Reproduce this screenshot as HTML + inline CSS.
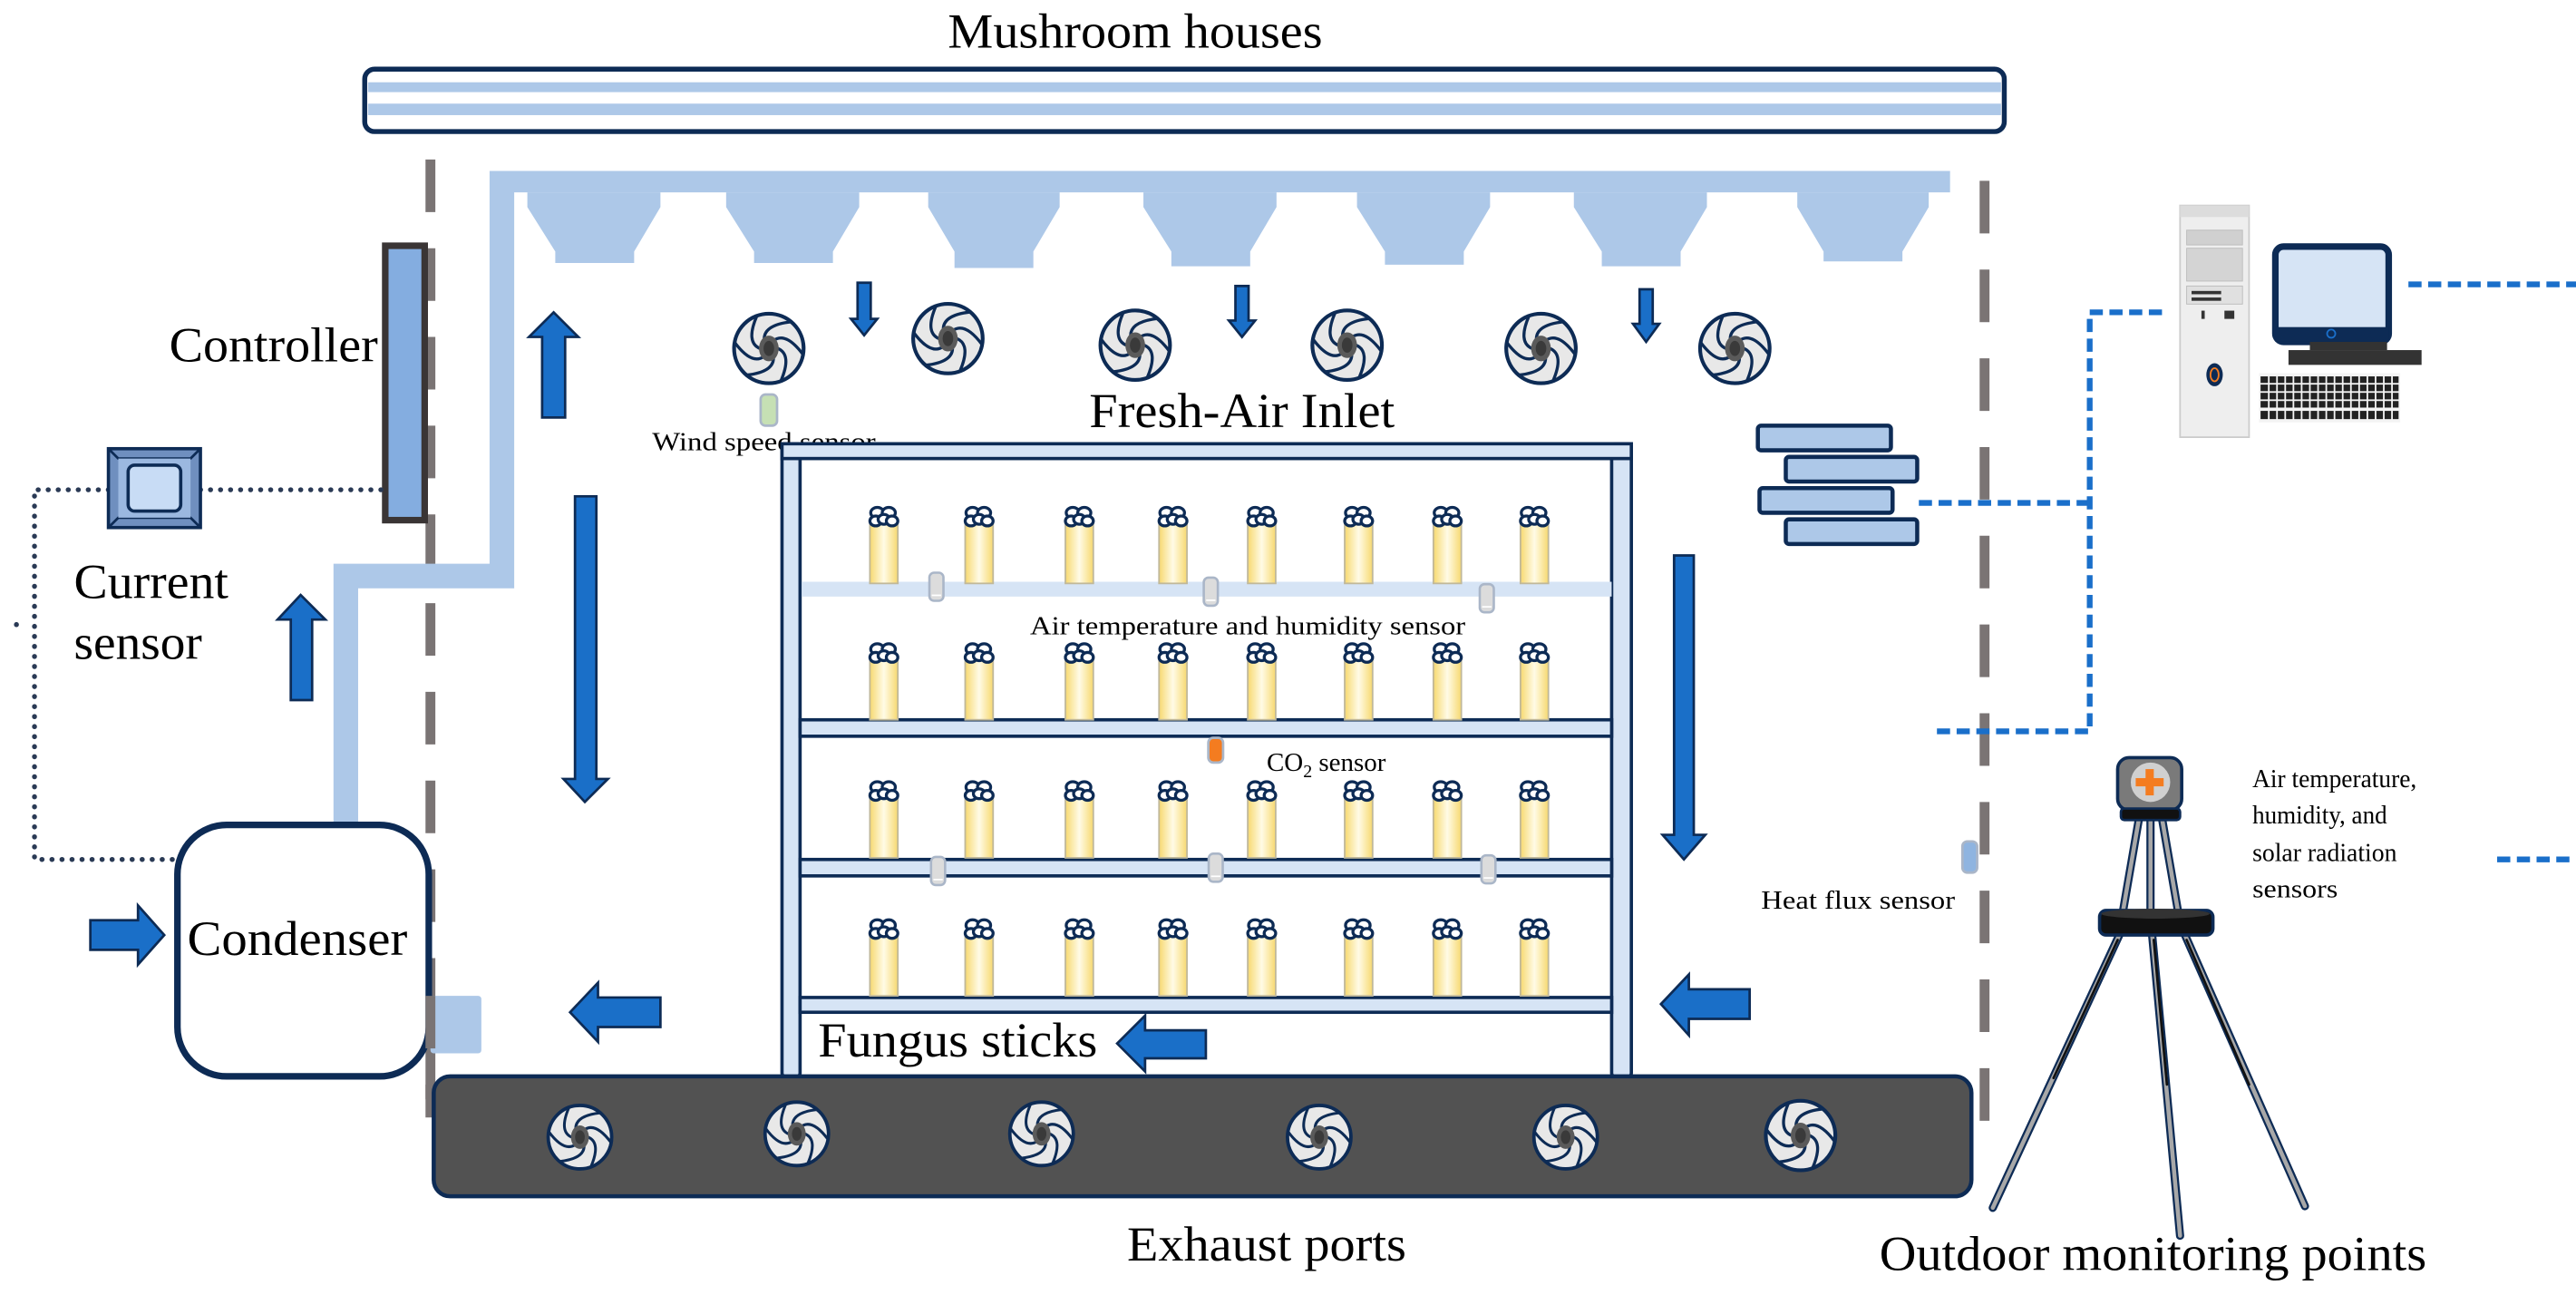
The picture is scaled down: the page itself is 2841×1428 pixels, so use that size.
<!DOCTYPE html>
<html><head><meta charset="utf-8"><style>
html,body{margin:0;padding:0;background:#fff;}
svg{display:block;}
text{font-family:"Liberation Serif",serif;fill:#000;}
</style></head><body>
<svg width="2841" height="1428" viewBox="0 0 1568 788" xmlns="http://www.w3.org/2000/svg">
<defs>
<linearGradient id="stk" x1="0" x2="1" y1="0" y2="0">
<stop offset="0" stop-color="#f7d970"/><stop offset="0.5" stop-color="#fffbe6"/><stop offset="1" stop-color="#f7d970"/>
</linearGradient>
<symbol id="fan" viewBox="-25 -25 50 50" overflow="visible">
<ellipse cx="0" cy="0" rx="23" ry="23" fill="#e8e8e8" stroke="#0d2b55" stroke-width="2.5"/>
<g fill="none" stroke="#0d2b55" stroke-width="2">
<path d="M6 0 Q15.5 4.1 7.9 21.6"/><path d="M3 5.2 Q4.1 15.5 -14.8 17.6"/><path d="M-3 5.2 Q-11.3 11.3 -22.6 -4"/>
<path d="M-6 0 Q-15.5 -4.1 -7.9 -21.6"/><path d="M-3 -5.2 Q-4.1 -15.5 14.8 -17.6"/><path d="M3 -5.2 Q11.3 -11.3 22.6 4"/>
</g>
<ellipse cx="0" cy="0" rx="6.5" ry="8.5" fill="#5a5a5a"/><ellipse cx="0" cy="0" rx="3.5" ry="5" fill="#3a3a3a"/>
</symbol>
<symbol id="stick" viewBox="0 0 20 48" overflow="visible">
<rect x="1.5" y="10" width="17" height="37" fill="url(#stk)" stroke="#c0b89a" stroke-width="1"/>
<g fill="#fff" stroke="#0d2b55" stroke-width="1.8">
<ellipse cx="6" cy="4" rx="4" ry="3.3"/><ellipse cx="13" cy="4" rx="4" ry="3.3"/>
<ellipse cx="5" cy="9" rx="3.5" ry="3"/><ellipse cx="10" cy="8" rx="3.5" ry="3"/><ellipse cx="15" cy="9" rx="3.5" ry="3"/>
</g>
</symbol>
<symbol id="sens" viewBox="0 0 10 20" overflow="visible">
<rect x="0.5" y="0.5" width="9" height="18" rx="3" fill="#dcdcdc" stroke="#aab6c8" stroke-width="1.5"/>
<line x1="2" y1="15" x2="8" y2="15" stroke="#fff" stroke-width="1"/>
</symbol>
</defs>

<!-- title -->
<text x="691" y="29" font-size="30" text-anchor="middle" textLength="228" lengthAdjust="spacingAndGlyphs">Mushroom houses</text>

<!-- pipe -->
<rect x="222" y="42" width="998" height="38" rx="6" fill="#fff" stroke="#0d2b55" stroke-width="3"/>
<rect x="224" y="50" width="994" height="6" fill="#adc8e8"/>
<rect x="224" y="63" width="994" height="7" fill="#adc8e8"/>

<!-- gray dashed walls -->
<line x1="262" y1="97" x2="262" y2="680" stroke="#7a7474" stroke-width="6" stroke-dasharray="32 22"/>
<line x1="1208" y1="110" x2="1208" y2="682" stroke="#7a7474" stroke-width="6" stroke-dasharray="32 22"/>

<!-- light blue duct -->
<path d="M298 104 H1187 V117 H313 V358 H218 V501 H203 V343 H298 Z" fill="#adc8e8"/>
<g fill="#adc8e8">
<path d="M321 117 H402 V126 L386 153 V160 H338 V153 L321 126 Z"/>
<path d="M442 117 H523 V126 L507 153 V160 H459 V153 L442 126 Z"/>
<path d="M565 117 H645 V126 L629 153 V163 H581 V153 L565 126 Z"/>
<path d="M696 117 H777 V126 L761 153 V162 H713 V153 L696 126 Z"/>
<path d="M826 117 H907 V126 L891 153 V161 H843 V153 L826 126 Z"/>
<path d="M958 117 H1039 V126 L1023 153 V162 H975 V153 L958 126 Z"/>
<path d="M1094 117 H1174 V126 L1158 153 V159 H1110 V153 L1094 126 Z"/>
</g>

<!-- top fans -->
<use href="#fan" x="445" y="188" width="46" height="48"/>
<use href="#fan" x="554" y="182" width="46" height="48"/>
<use href="#fan" x="668" y="186" width="46" height="48"/>
<use href="#fan" x="797" y="186" width="46" height="48"/>
<use href="#fan" x="915" y="188" width="46" height="48"/>
<use href="#fan" x="1033" y="188" width="46" height="48"/>

<!-- arrows -->
<g fill="#1a6fc8" stroke="#0d2b55" stroke-width="1.5">
<path d="M522 172 H530 V194 H534 L526 204 L518 194 H522 Z"/>
<path d="M752 174 H760 V195 H764 L756 205 L748 195 H752 Z"/>
<path d="M998 176 H1006 V197 H1010 L1002 208 L994 197 H998 Z"/>
<path d="M330 254 V205 H322 L337 190 L352 205 H344 V254 Z"/>
<path d="M177 426 V377 H169 L183 362 L198 377 H190 V426 Z"/>
<path d="M350 302 H363 V474 H370 L356 488 L343 474 H350 Z"/>
<path d="M1019 338 H1031 V508 H1038 L1025 523 L1012 508 H1019 Z"/>
<path d="M55 560 H84 V551 L100 569 L84 587 V578 H55 Z"/>
<path d="M402 607 H364 V598 L347 616 L364 634 V625 H402 Z"/>
<path d="M734 627 H697 V618 L680 635 L697 652 V644 H734 Z"/>
<path d="M1065 602 H1028 V593 L1011 611 L1028 630 V620 H1065 Z"/>
</g>

<!-- wind speed sensor -->
<rect x="463" y="240" width="10" height="19" rx="3" fill="#c6e0b4" stroke="#aab6c8" stroke-width="1.5"/>
<text x="397" y="274" font-size="16" textLength="136" lengthAdjust="spacingAndGlyphs">Wind speed sensor</text>
<text x="663" y="260" font-size="30" textLength="186" lengthAdjust="spacingAndGlyphs">Fresh-Air Inlet</text>

<!-- controller -->
<rect x="234.5" y="149.5" width="24" height="167" fill="#84ade0" stroke="#3a3535" stroke-width="4"/>
<text x="103" y="220" font-size="30" textLength="127" lengthAdjust="spacingAndGlyphs">Controller</text>

<!-- dotted navy lines -->
<g stroke="#2a3a55" stroke-width="3" stroke-linecap="round" stroke-dasharray="0.1 6" fill="none">
<path d="M122 298 H233"/>
<path d="M66 298 H21 V523 H157"/>
<path d="M10 380 V386"/>
</g>
<!-- current sensor -->
<rect x="66" y="273" width="56" height="48" fill="#6f8fbf" stroke="#0d2b55" stroke-width="2"/>
<path d="M66 273 L72 279 H116 L122 273 M66 321 L72 315 H116 L122 321" fill="none" stroke="#0d2b55" stroke-width="1.5"/>
<rect x="72" y="279" width="44" height="36" fill="#9bb8e0"/>
<rect x="78" y="283" width="32" height="28" rx="4" fill="#c8dcf5" stroke="#0d2b55" stroke-width="2"/>
<text x="45" y="364" font-size="30" textLength="94" lengthAdjust="spacingAndGlyphs">Current</text>
<text x="45" y="401" font-size="30" textLength="78" lengthAdjust="spacingAndGlyphs">sensor</text>

<!-- condenser -->
<rect x="108" y="502" width="153" height="153" rx="30" fill="#fff" stroke="#0d2b55" stroke-width="4"/>
<text x="181" y="581" font-size="30" text-anchor="middle" textLength="134" lengthAdjust="spacingAndGlyphs">Condenser</text>
<rect x="262" y="606" width="31" height="35" rx="2" fill="#adc8e8"/>
<line x1="262" y1="606" x2="262" y2="680" stroke="#7a7474" stroke-width="6" stroke-dasharray="32 22"/>

<!-- rack -->
<g fill="#d6e4f5" stroke="#0d2b55" stroke-width="2">
<rect x="476" y="270" width="11" height="385" rx="2"/>
<rect x="981" y="270" width="12" height="385" rx="2"/>
<rect x="476" y="270" width="517" height="9"/>
<rect x="487" y="438" width="494" height="10"/>
<rect x="487" y="523" width="494" height="10"/>
<rect x="487" y="607" width="494" height="9"/>
</g>
<rect x="488" y="354" width="493" height="9" fill="#d6e4f5"/>

<!-- sticks -->
<g>
<use href="#stick" x="528" y="308" width="20" height="48"/><use href="#stick" x="586" y="308" width="20" height="48"/><use href="#stick" x="647" y="308" width="20" height="48"/><use href="#stick" x="704" y="308" width="20" height="48"/><use href="#stick" x="758" y="308" width="20" height="48"/><use href="#stick" x="817" y="308" width="20" height="48"/><use href="#stick" x="871" y="308" width="20" height="48"/><use href="#stick" x="924" y="308" width="20" height="48"/>
<use href="#stick" x="528" y="391" width="20" height="48"/><use href="#stick" x="586" y="391" width="20" height="48"/><use href="#stick" x="647" y="391" width="20" height="48"/><use href="#stick" x="704" y="391" width="20" height="48"/><use href="#stick" x="758" y="391" width="20" height="48"/><use href="#stick" x="817" y="391" width="20" height="48"/><use href="#stick" x="871" y="391" width="20" height="48"/><use href="#stick" x="924" y="391" width="20" height="48"/>
<use href="#stick" x="528" y="475" width="20" height="48"/><use href="#stick" x="586" y="475" width="20" height="48"/><use href="#stick" x="647" y="475" width="20" height="48"/><use href="#stick" x="704" y="475" width="20" height="48"/><use href="#stick" x="758" y="475" width="20" height="48"/><use href="#stick" x="817" y="475" width="20" height="48"/><use href="#stick" x="871" y="475" width="20" height="48"/><use href="#stick" x="924" y="475" width="20" height="48"/>
<use href="#stick" x="528" y="559" width="20" height="48"/><use href="#stick" x="586" y="559" width="20" height="48"/><use href="#stick" x="647" y="559" width="20" height="48"/><use href="#stick" x="704" y="559" width="20" height="48"/><use href="#stick" x="758" y="559" width="20" height="48"/><use href="#stick" x="817" y="559" width="20" height="48"/><use href="#stick" x="871" y="559" width="20" height="48"/><use href="#stick" x="924" y="559" width="20" height="48"/>
</g>

<!-- sensors -->
<use href="#sens" x="565" y="348" width="10" height="19"/>
<use href="#sens" x="732" y="351" width="10" height="19"/>
<use href="#sens" x="900" y="355" width="10" height="19"/>
<use href="#sens" x="566" y="521" width="10" height="19"/>
<use href="#sens" x="735" y="519" width="10" height="19"/>
<use href="#sens" x="901" y="520" width="10" height="19"/>
<rect x="735.5" y="449" width="9" height="15" rx="3" fill="#f47c20" stroke="#aab6c8" stroke-width="1.5"/>
<rect x="1194.5" y="512" width="9" height="19" rx="3" fill="#8fb4e0" stroke="#aab6c8" stroke-width="1.5"/>

<text x="627" y="386" font-size="16" textLength="265" lengthAdjust="spacingAndGlyphs">Air temperature and humidity sensor</text>
<text x="771" y="469" font-size="16">CO<tspan font-size="11" dy="4">2</tspan><tspan dy="-4"> sensor</tspan></text>
<text x="1072" y="553" font-size="16" textLength="118" lengthAdjust="spacingAndGlyphs">Heat flux sensor</text>
<text x="498" y="643" font-size="30" textLength="170" lengthAdjust="spacingAndGlyphs">Fungus sticks</text>

<!-- exhaust -->
<rect x="264" y="655" width="936" height="73" rx="10" fill="#525252" stroke="#0d2b55" stroke-width="2.5"/>
<use href="#fan" x="332" y="670" width="42" height="44"/>
<use href="#fan" x="464" y="668" width="42" height="44"/>
<use href="#fan" x="613" y="668" width="42" height="44"/>
<use href="#fan" x="782" y="670" width="42" height="44"/>
<use href="#fan" x="932" y="670" width="42" height="44"/>
<use href="#fan" x="1073" y="667" width="46" height="48"/>
<text x="771" y="767" font-size="30" text-anchor="middle" textLength="170" lengthAdjust="spacingAndGlyphs">Exhaust ports</text>

<!-- logger blocks -->
<g fill="#adc8e8" stroke="#0d2b55" stroke-width="2.5">
<rect x="1070" y="259" width="81" height="15" rx="2"/>
<rect x="1087" y="278" width="80" height="15" rx="2"/>
<rect x="1071" y="297" width="81" height="15" rx="2"/>
<rect x="1087" y="316" width="80" height="15" rx="2"/>
</g>

<!-- blue dotted network lines -->
<g stroke="#1a6fca" stroke-width="3.5" fill="none" stroke-dasharray="8 4">
<path d="M1168 306 H1272"/>
<path d="M1316 190 H1272 V445 H1176"/>
<path d="M1466 173 H1568"/>
<path d="M1520 523 H1568"/>
</g>

<!-- computer -->
<rect x="1327" y="125" width="42" height="141" fill="#eeeeee" stroke="#cccccc" stroke-width="1"/>
<rect x="1327" y="125" width="42" height="7" fill="#dcdcdc"/>
<rect x="1331" y="140" width="34" height="9" fill="#d0d0d0" stroke="#bbb" stroke-width="0.5"/>
<rect x="1331" y="151" width="34" height="20" fill="#d4d4d4" stroke="#bbb" stroke-width="0.5"/>
<rect x="1331" y="174" width="34" height="11" fill="#e0e0e0" stroke="#bbb" stroke-width="0.5"/>
<rect x="1334" y="177" width="18" height="2" fill="#333"/><rect x="1334" y="181" width="18" height="2" fill="#333"/>
<rect x="1340" y="189" width="2" height="5" fill="#333"/><rect x="1354" y="189" width="6" height="5" fill="#333"/>
<ellipse cx="1348" cy="228" rx="5" ry="7" fill="#0d2b55"/><ellipse cx="1348" cy="228" rx="2.5" ry="4" fill="none" stroke="#f47c20" stroke-width="1"/>
<rect x="1385" y="150" width="69" height="58" rx="5" fill="#d6e4f5" stroke="#0d2b55" stroke-width="4"/>
<rect x="1385" y="199" width="69" height="9" fill="#0d2b55"/>
<circle cx="1419" cy="203" r="2.5" fill="none" stroke="#1a6fca" stroke-width="1"/>
<rect x="1406" y="208" width="47" height="5" fill="#333"/>
<rect x="1393" y="213" width="81" height="9" fill="#333"/>
<rect x="1375" y="227" width="86" height="30" fill="#f4f4f4"/>
<g fill="#222">
<rect x="1376" y="229" width="84" height="4"/><rect x="1376" y="234" width="84" height="4"/><rect x="1376" y="239" width="84" height="4"/><rect x="1376" y="244" width="84" height="4"/><rect x="1376" y="250" width="84" height="5"/>
</g>
<g stroke="#f4f4f4" stroke-width="1">
<path d="M1381 228 V256 M1386 228 V256 M1391 228 V256 M1396 228 V256 M1401 228 V256 M1406 228 V256 M1411 228 V256 M1416 228 V256 M1421 228 V256 M1426 228 V256 M1431 228 V256 M1436 228 V256 M1441 228 V256 M1446 228 V256 M1451 228 V256 M1456 228 V256"/>
</g>

<!-- tripod -->
<g stroke-linecap="round">
<g stroke="#0d2b55" stroke-width="5">
<line x1="1302" y1="498" x2="1292" y2="556"/><line x1="1309" y1="498" x2="1309" y2="556"/><line x1="1316" y1="498" x2="1326" y2="556"/>
<line x1="1290" y1="569" x2="1213" y2="735"/><line x1="1310" y1="569" x2="1327" y2="752"/><line x1="1330" y1="569" x2="1403" y2="734"/>
</g>
<g stroke="#a8a8a8" stroke-width="2.5">
<line x1="1302" y1="498" x2="1292" y2="556"/><line x1="1309" y1="498" x2="1309" y2="556"/><line x1="1316" y1="498" x2="1326" y2="556"/>
<line x1="1290" y1="569" x2="1213" y2="735"/><line x1="1310" y1="569" x2="1327" y2="752"/><line x1="1330" y1="569" x2="1403" y2="734"/>
</g>
<g stroke="#111" stroke-width="1.5">
<line x1="1289" y1="572" x2="1250" y2="656"/><line x1="1311" y1="572" x2="1319" y2="660"/><line x1="1331" y1="572" x2="1369" y2="660"/>
</g>
</g>
<rect x="1278" y="554" width="69" height="15" rx="4" fill="#111" stroke="#0d2b55" stroke-width="2"/>
<ellipse cx="1312" cy="556" rx="33" ry="3" fill="#333"/>
<rect x="1289" y="461" width="39" height="32" rx="7" fill="#7a7a7a" stroke="#0d2b55" stroke-width="2"/>
<circle cx="1309" cy="476" r="12" fill="#d0d0d0"/>
<rect x="1306" y="468" width="5" height="16" fill="#f47c20"/><rect x="1300" y="473.5" width="17" height="5" fill="#f47c20"/>
<rect x="1291" y="492" width="36" height="7" rx="2" fill="#111" stroke="#0d2b55" stroke-width="1.5"/>

<g font-size="16">
<text x="1371" y="479" textLength="100" lengthAdjust="spacingAndGlyphs">Air temperature,</text>
<text x="1371" y="501" textLength="82" lengthAdjust="spacingAndGlyphs">humidity, and</text>
<text x="1371" y="524" textLength="88" lengthAdjust="spacingAndGlyphs">solar radiation</text>
<text x="1371" y="546" textLength="52" lengthAdjust="spacingAndGlyphs">sensors</text>
</g>
<text x="1144" y="773" font-size="30" textLength="333" lengthAdjust="spacingAndGlyphs">Outdoor monitoring points</text>
</svg>
</body></html>
